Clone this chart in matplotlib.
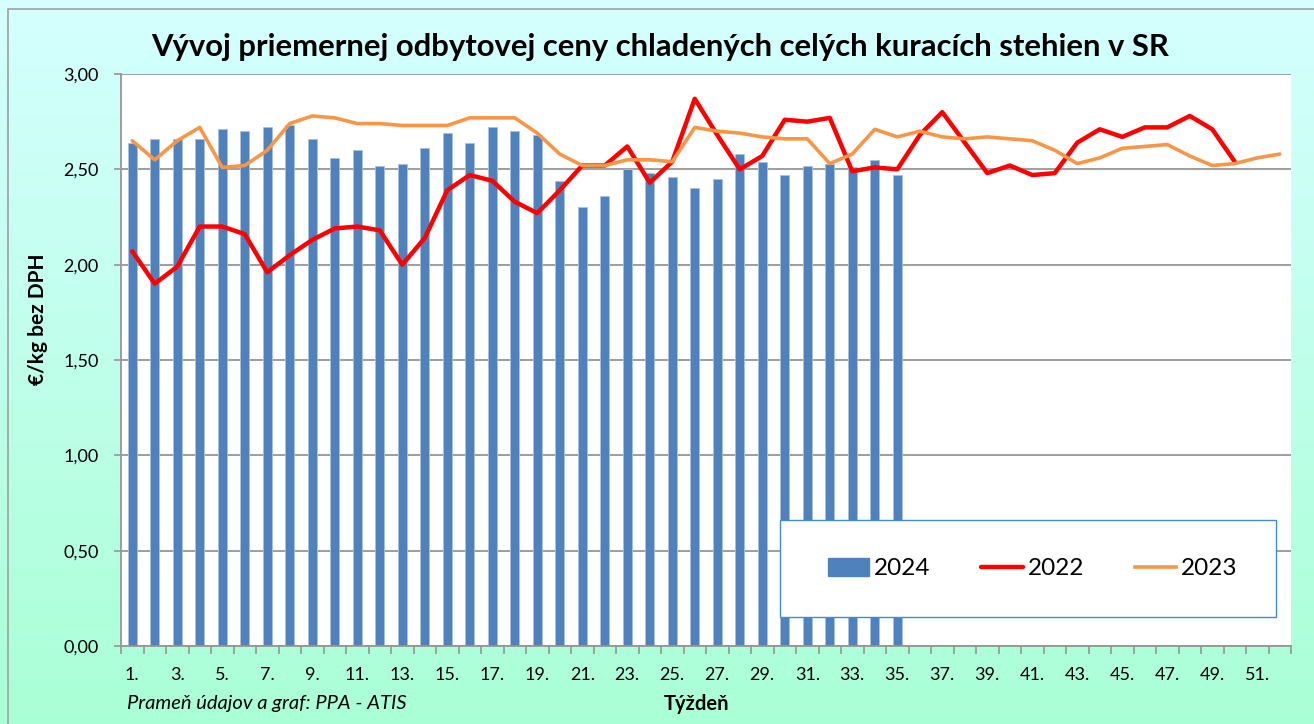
import numpy as np
import matplotlib
matplotlib.use('Agg')
import matplotlib.pyplot as plt
from matplotlib.patches import Rectangle, Patch
from matplotlib.lines import Line2D

plt.rcParams['font.family'] = ['Lato', 'DejaVu Sans']

# data
weeks = np.arange(1, 53)
tick_labels = [f'{w}.' for w in range(1, 53, 2)]

price_2024 = [2.64, 2.66, 2.66, 2.66, 2.71, 2.70, 2.72, 2.73, 2.66, 2.56,
              2.60, 2.52, 2.53, 2.61, 2.69, 2.64, 2.72, 2.70, 2.68, 2.44,
              2.30, 2.36, 2.50, 2.48, 2.46, 2.40, 2.45, 2.58, 2.54, 2.47,
              2.52, 2.53, 2.51, 2.55, 2.47]

price_2022 = [2.07, 1.90, 1.99, 2.20, 2.20, 2.16, 1.96, 2.05, 2.13, 2.19,
              2.20, 2.18, 2.00, 2.14, 2.39, 2.47, 2.44, 2.33, 2.27, 2.39,
              2.52, 2.52, 2.62, 2.43, 2.54, 2.87, 2.68, 2.50, 2.57, 2.76,
              2.75, 2.77, 2.49, 2.51, 2.50, 2.68, 2.80, 2.64, 2.48, 2.52,
              2.47, 2.48, 2.64, 2.71, 2.67, 2.72, 2.72, 2.78, 2.71, 2.54]

price_2023 = [2.65, 2.55, 2.65, 2.72, 2.51, 2.52, 2.60, 2.74, 2.78, 2.77,
              2.74, 2.74, 2.73, 2.73, 2.73, 2.77, 2.77, 2.77, 2.69, 2.58,
              2.52, 2.52, 2.55, 2.55, 2.54, 2.72, 2.70, 2.69, 2.67, 2.66,
              2.66, 2.53, 2.58, 2.71, 2.67, 2.70, 2.67, 2.66, 2.67, 2.66,
              2.65, 2.60, 2.53, 2.56, 2.61, 2.62, 2.63, 2.57, 2.52, 2.53,
              2.56, 2.58]

W, H = 1314, 724
fig = plt.figure(figsize=(W / 100, H / 100), dpi=100)

# gradient background + chart border
bg = fig.add_axes([0, 0, 1, 1], zorder=0)
top_c = np.array([0.835, 1.0, 1.0])
bot_c = np.array([0.665, 1.0, 0.84])
t = np.linspace(0, 1, 256)[:, None, None]
grad = top_c * (1 - t) + bot_c * t
grad = np.repeat(grad, 2, axis=1)
bg.imshow(grad, aspect='auto', extent=[0, W, H, 0])
bg.plot([8, 8, W + 5], [H + 5, 9, 9], color='#A0A0A0', lw=1.2)
bg.set_xlim(0, W)
bg.set_ylim(H, 0)
bg.axis('off')

# plot area
x0, x1, y0, y1 = 121, 1291, 74, 646
ax = fig.add_axes([x0 / W, 1 - y1 / H, (x1 - x0) / W, (y1 - y0) / H], zorder=1)
ax.set_facecolor('white')

ax.bar(weeks[:len(price_2024)], price_2024, width=0.4, color='#4F81BD',
       edgecolor='#A9C1DF', linewidth=0.6, zorder=2)
ax.plot(weeks[:len(price_2022)], price_2022, color='#FF0000', lw=3.2,
        solid_joinstyle='round', solid_capstyle='round', zorder=3)
ax.plot(weeks[:len(price_2023)], price_2023, color='#F79646', lw=2.6,
        solid_joinstyle='round', solid_capstyle='round', zorder=4)

ax.set_xlim(0.5, 52.5)
ax.set_ylim(0, 3)
ax.set_yticks(np.arange(0, 3.01, 0.5))
ax.set_yticklabels([f'{v:.2f}'.replace('.', ',') for v in np.arange(0, 3.01, 0.5)])
ax.yaxis.grid(True, color='#969696', lw=1.3, zorder=1)
ax.set_axisbelow(True)

# ticks between categories, labels on every second week
ax.set_xticks(np.arange(0.5, 53, 1))
ax.set_xticklabels([])
ax.set_xticks(np.arange(1, 53, 2), minor=True)
ax.set_xticklabels(tick_labels, minor=True)
ax.tick_params(axis='x', which='major', direction='out', length=6, width=1.2, color='#969696')
ax.tick_params(axis='x', which='minor', length=0, pad=15, labelsize=13)
ax.tick_params(axis='y', direction='out', length=5, width=1.2, color='#969696', pad=11, labelsize=13)

for s in ['top', 'right']:
    ax.spines[s].set_visible(False)
for s in ['left', 'bottom']:
    ax.spines[s].set_color('#969696')
    ax.spines[s].set_linewidth(1.3)

# legend box
lx0 = (780 - x0) / (x1 - x0)
lx1 = (1276 - x0) / (x1 - x0)
ly0 = (y1 - 617) / (y1 - y0)
ly1 = (y1 - 520) / (y1 - y0)
ax.add_patch(Rectangle((lx0, ly0), lx1 - lx0, ly1 - ly0, transform=ax.transAxes,
                       facecolor='white', edgecolor='#3F8ED4', lw=1.0, zorder=5))
handles = [Patch(facecolor='#4F81BD', edgecolor='#4F81BD'),
           Line2D([], [], color='#FF0000', lw=3.2, solid_capstyle='round'),
           Line2D([], [], color='#F79646', lw=2.6)]
leg = ax.legend(handles, ['2024', '2022', '2023'], loc='center', ncol=3,
                bbox_to_anchor=((lx0 + lx1) / 2 + 0.004, (ly0 + ly1) / 2), frameon=False,
                fontsize=17.5, handlelength=1.7, handleheight=0.8, handletextpad=0.2,
                columnspacing=2.1)
leg.set_zorder(6)

fig.text(660 / W, 1 - 47 / H,
         'Vývoj priemernej odbytovej ceny chladených celých kuracích stehien v SR',
         ha='center', va='center', fontsize=22.3, fontweight='bold')
fig.text(38 / W, 1 - 319 / H, '€/kg bez DPH', rotation=90, ha='center', va='center',
         fontsize=15, fontweight='bold')
fig.text(696 / W, 1 - 704 / H, 'Týždeň', ha='center', va='center',
         fontsize=14.5, fontweight='bold')
fig.text(127 / W, 1 - 704 / H, 'Prameň údajov a graf: PPA - ATIS', ha='left', va='center',
         fontsize=14.5, fontstyle='italic')

fig.savefig('out.png', dpi=100)
